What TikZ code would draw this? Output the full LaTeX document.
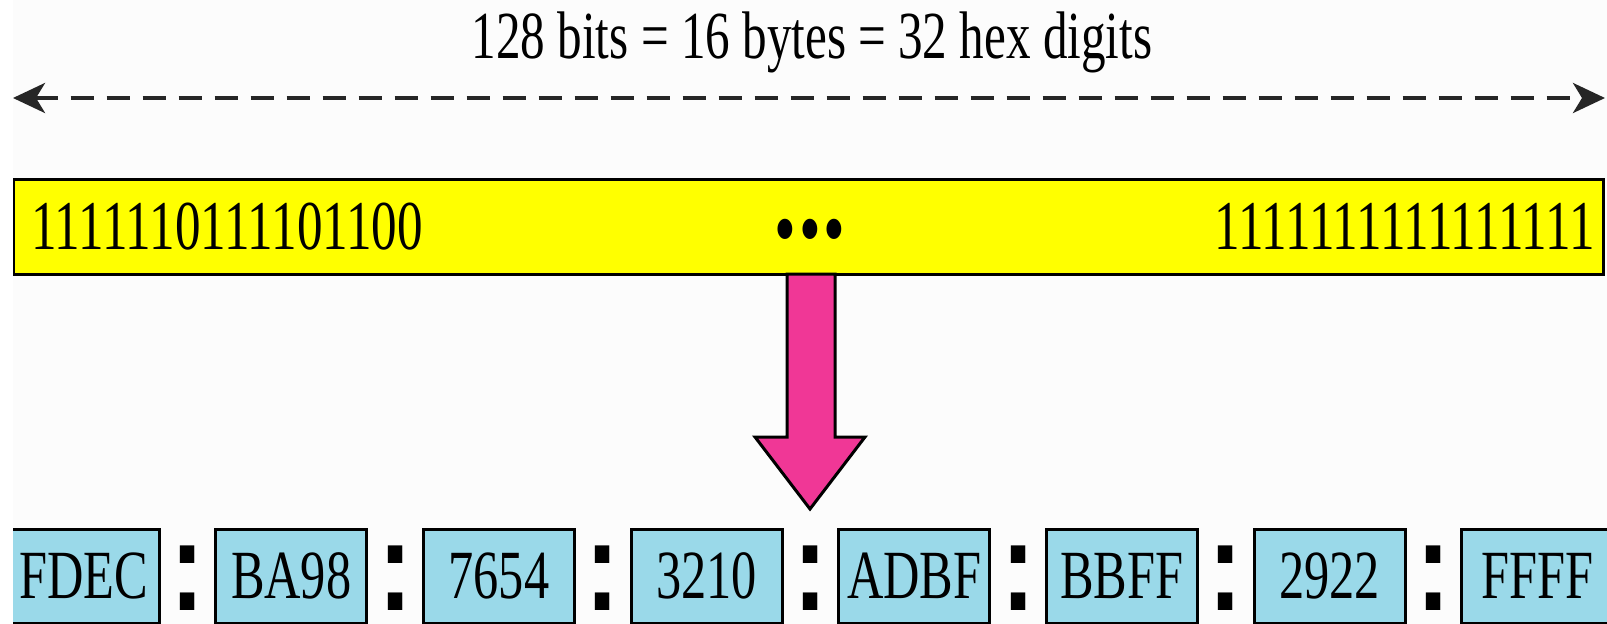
\documentclass[tikz,border=0pt]{standalone}
\usepackage{fontspec}
\setmainfont[FakeStretch=0.73]{Liberation Serif}
\newfontfamily\colonfont[FakeStretch=0.8]{Liberation Sans}
\usetikzlibrary{arrows.meta}
\definecolor{bgc}{HTML}{FCFCFC}
\definecolor{baryellow}{HTML}{FFFF00}
\definecolor{boxblue}{RGB}{154,217,233}
\definecolor{arrowpink}{RGB}{240,55,150}
\begin{document}
\begin{tikzpicture}[x=1pt,y=-1pt,
  titletext/.style={font=\fontsize{67.3}{72}\selectfont, inner sep=0pt},
  bartext/.style={font=\fontsize{70}{74}\selectfont, inner sep=0pt},
  dimline/.style={line width=4pt, dash pattern=on 23pt off 13pt, draw=black!85,
    {Stealth[length=32pt,width=30pt,inset=9pt]}-{Stealth[length=32pt,width=30pt,inset=9pt]}},
  bitbar/.style={draw=black, line width=3pt, fill=baryellow, minimum width=1590pt, minimum height=95pt, inner sep=0pt},
  pinkarrow/.style={draw=black, line width=3pt, fill=arrowpink, line join=miter},
  hexbox/.style={draw=black, line width=3pt, fill=boxblue, minimum width=151pt, minimum height=94pt, inner sep=0pt, font=\fontsize{69}{72}\selectfont},
  sepcolon/.style={font=\colonfont\bfseries\fontsize{128}{130}\selectfont, inner sep=0pt, anchor=base}]
\useasboundingbox (0,0) rectangle (1607,624);
\fill[white] (0,0) rectangle (1607,624);
\fill[bgc] (13,0) rectangle (1607,624);
\begin{scope}
\clip (13,0) rectangle (1607,624);
\node[titletext, anchor=base] (title) at (812,58) {128 bits = 16 bytes = 32 hex digits};
\coordinate (dl) at (13,98);
\coordinate (dr) at (1605,98);
\draw[dimline] (dl) -- (dr);
\node[bitbar] (bar) at (808,226.5) {};
\node[bartext, anchor=base west] (bl) at (31,249) {1111110111101100};
\node[bartext, anchor=base east] (br) at (1595,249) {1111111111111111};
\node[inner sep=0pt, anchor=base, font=\fontsize{85}{90}\selectfont] (dots) at (810,257) {•\hspace{3pt}•\hspace{3pt}•};
\coordinate (atop) at (811,274);
\coordinate (atip) at (810,509);
\draw[pinkarrow] ([xshift=-24pt]atop) -- ++(0,163) -- ++(-32,0) -- (atip) -- ++(55,-72) -- ++(-30,0) -- ++(0,-163) -- cycle;
\foreach \t [count=\i from 0] in {FDEC,BA98,7654,3210,ADBF,BBFF,2922,FFFF} {
  \node[hexbox] (h\i) at ({83.5+207.7*\i},576) {\t};
}
\foreach \i in {0,...,6} {
  \node[sepcolon] (c\i) at ({187.4+207.7*\i},610) {:};
}
\end{scope}
\end{tikzpicture}
\end{document}
